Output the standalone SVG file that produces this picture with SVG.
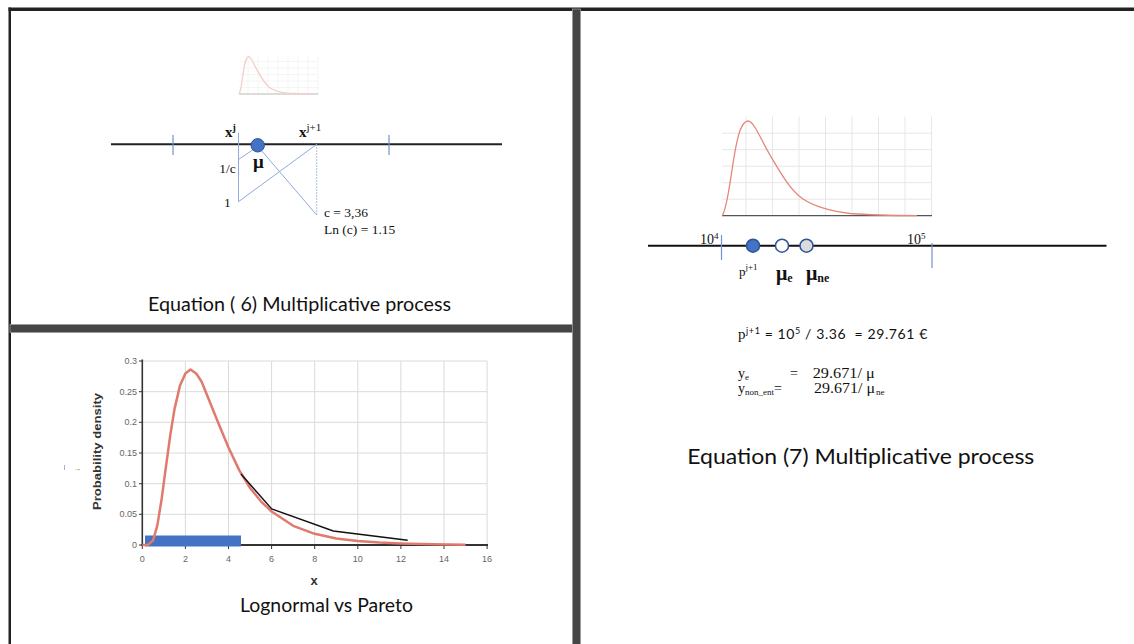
<svg xmlns="http://www.w3.org/2000/svg" xmlns:xlink="http://www.w3.org/1999/xlink" width="1134" height="644" viewBox="0 0 1134 644">
<style>
.serif{font-family:"Liberation Serif","Times New Roman",serif;fill:#111}
.sans{font-family:Lato,"Liberation Sans",sans-serif;fill:#111}
.tick{font-family:"Liberation Sans",Arial,sans-serif;font-size:9px;fill:#666}
.blue{stroke:#8FAADC;stroke-width:1;fill:none}
.btick{stroke:#6F93D6;stroke-width:1.2}
.grid{stroke:#dadada;stroke-width:1}
.frame{fill:#454545;stroke:#999;stroke-width:0.8}
</style>
<defs>
<g id="pdfChart">
<g stroke="#e4e4e4" stroke-width="0.9">
<line x1="24" y1="0" x2="24" y2="99" vector-effect="non-scaling-stroke"/>
<line x1="50.5" y1="0" x2="50.5" y2="99" vector-effect="non-scaling-stroke"/>
<line x1="77" y1="0" x2="77" y2="99" vector-effect="non-scaling-stroke"/>
<line x1="103.5" y1="0" x2="103.5" y2="99" vector-effect="non-scaling-stroke"/>
<line x1="130" y1="0" x2="130" y2="99" vector-effect="non-scaling-stroke"/>
<line x1="156.5" y1="0" x2="156.5" y2="99" vector-effect="non-scaling-stroke"/>
<line x1="183" y1="0" x2="183" y2="99" vector-effect="non-scaling-stroke"/>
<line x1="209.5" y1="0" x2="209.5" y2="99" vector-effect="non-scaling-stroke"/>
<line x1="0" y1="16.5" x2="209.5" y2="16.5" vector-effect="non-scaling-stroke"/>
<line x1="0" y1="33" x2="209.5" y2="33" vector-effect="non-scaling-stroke"/>
<line x1="0" y1="49.5" x2="209.5" y2="49.5" vector-effect="non-scaling-stroke"/>
<line x1="0" y1="66" x2="209.5" y2="66" vector-effect="non-scaling-stroke"/>
<line x1="0" y1="82.5" x2="209.5" y2="82.5" vector-effect="non-scaling-stroke"/>
</g>
<line x1="0" y1="99" x2="210" y2="99" stroke="#555" stroke-width="1.2" vector-effect="non-scaling-stroke"/>
<path d="M0,99 C4,95.3 7,73.3 10,53.3 C14,26.3 18,4.3 26,4.3 C32,4.3 39,23.3 48,38.3 C58,55.3 68,73.3 81,82.3 C93,90.3 108,94.3 128,96.8 C148,98.3 168,98.8 195,98.9" fill="none" stroke="#E3877B" stroke-width="1.3" vector-effect="non-scaling-stroke"/>
</g>
</defs>

<rect width="1134" height="644" fill="#ffffff"/>

<g id="frame">
<rect x="8.5" y="7.5" width="1126" height="3.5" fill="#222"/>
<rect x="8.5" y="7.5" width="2.5" height="637" fill="#222"/>
<rect x="10" y="324.5" width="563" height="8" class="frame"/>
<rect x="572.5" y="9" width="8" height="636" class="frame"/>
</g>

<g id="panel-eq6">
<g id="thumbnail" opacity="0.4">
<use xlink:href="#pdfChart" transform="translate(239,55) scale(0.377,0.394)"/>
</g>
<g id="axis6">
<line x1="111" y1="144.3" x2="502" y2="144.3" stroke="#222" stroke-width="2"/>
<line x1="173" y1="135" x2="173" y2="155" class="btick"/>
<line x1="389" y1="135" x2="389" y2="155" class="btick"/>
</g>
<g id="connectors6">
<line x1="238.5" y1="132.7" x2="238.5" y2="201.7" class="blue"/>
<line x1="238.5" y1="159.5" x2="254" y2="149" class="blue"/>
<line x1="238.5" y1="201.7" x2="316.7" y2="144.3" class="blue"/>
<line x1="261" y1="150" x2="316.7" y2="215" class="blue"/>
<line x1="316.7" y1="144.3" x2="316.7" y2="215" class="blue" stroke-dasharray="1.5 1.5"/>
</g>
<g id="node-mu">
<circle cx="257.7" cy="145.3" r="6.7" fill="#4472C4" stroke="#2F5597" stroke-width="1"/>
<text x="253" y="168" class="serif" font-size="19" font-weight="bold">μ</text>
</g>
<g id="labels6">
<text x="225" y="137" class="serif" font-size="15" font-weight="bold">x<tspan font-size="10" dy="-6">j</tspan></text>
<text x="299" y="137" class="serif" font-size="15" font-weight="bold">x<tspan font-size="11" font-weight="normal" dy="-6">j+1</tspan></text>
<text x="219.3" y="172.7" class="serif" font-size="13.5">1/c</text>
<text x="224" y="206.7" class="serif" font-size="13.5">1</text>
<text x="324" y="216.7" class="serif" font-size="13.5">c = 3,36</text>
<text x="324" y="234" class="serif" font-size="13.5">Ln (c) = 1.15</text>
</g>
<text id="caption6" x="148" y="311" class="sans" font-size="18.5" textLength="303" lengthAdjust="spacingAndGlyphs">Equation ( 6) Multiplicative process</text>
</g>

<g id="panel-lognormal">
<g id="grid">
<line x1="185.4" y1="361" x2="185.4" y2="545" class="grid"/>
<line x1="228.5" y1="361" x2="228.5" y2="545" class="grid"/>
<line x1="271.6" y1="361" x2="271.6" y2="545" class="grid"/>
<line x1="314.7" y1="361" x2="314.7" y2="545" class="grid"/>
<line x1="357.8" y1="361" x2="357.8" y2="545" class="grid"/>
<line x1="400.9" y1="361" x2="400.9" y2="545" class="grid"/>
<line x1="444" y1="361" x2="444" y2="545" class="grid"/>
<line x1="487.1" y1="361" x2="487.1" y2="545" class="grid"/>
<line x1="142.3" y1="514.3" x2="487.1" y2="514.3" class="grid"/>
<line x1="142.3" y1="483.7" x2="487.1" y2="483.7" class="grid"/>
<line x1="142.3" y1="453" x2="487.1" y2="453" class="grid"/>
<line x1="142.3" y1="422.3" x2="487.1" y2="422.3" class="grid"/>
<line x1="142.3" y1="391.7" x2="487.1" y2="391.7" class="grid"/>
<line x1="142.3" y1="361" x2="487.1" y2="361" class="grid"/>
</g>
<g id="axes" stroke="#333">
<line x1="142.3" y1="359.5" x2="142.3" y2="546" stroke-width="1.6"/>
<line x1="141.5" y1="545" x2="488" y2="545" stroke-width="2"/>
<path d="M139,361H142 M139,391.7H142 M139,422.3H142 M139,453H142 M139,483.7H142 M139,514.3H142 M139,545H142" stroke-width="1"/>
<path d="M142.3,545V549 M185.4,545V549 M228.5,545V549 M271.6,545V549 M314.7,545V549 M357.8,545V549 M400.9,545V549 M444,545V549 M487.1,545V549" stroke-width="1"/>
</g>
<g id="yticks" text-anchor="end">
<text x="137" y="364" class="tick">0.3</text>
<text x="137" y="394.7" class="tick">0.25</text>
<text x="137" y="425.3" class="tick">0.2</text>
<text x="137" y="456" class="tick">0.15</text>
<text x="137" y="486.7" class="tick">0.1</text>
<text x="137" y="517.3" class="tick">0.05</text>
<text x="137" y="548" class="tick">0</text>
</g>
<g id="xticks" text-anchor="middle">
<text x="142.3" y="561.5" class="tick">0</text>
<text x="185.4" y="561.5" class="tick">2</text>
<text x="228.5" y="561.5" class="tick">4</text>
<text x="271.6" y="561.5" class="tick">6</text>
<text x="314.7" y="561.5" class="tick">8</text>
<text x="357.8" y="561.5" class="tick">10</text>
<text x="400.9" y="561.5" class="tick">12</text>
<text x="444" y="561.5" class="tick">14</text>
<text x="487.1" y="561.5" class="tick">16</text>
</g>
<text x="314" y="585" text-anchor="middle" font-family="Liberation Sans, Arial, sans-serif" font-size="13" font-weight="bold" fill="#333">x</text>
<text transform="translate(100.5,451.5) rotate(-90)" text-anchor="middle" font-family="Liberation Sans, Arial, sans-serif" font-size="11.5" font-weight="bold" fill="#333" textLength="117" lengthAdjust="spacingAndGlyphs">Probability density</text>
<line x1="64.5" y1="465" x2="64.5" y2="470" stroke="#9bb3de" stroke-width="1"/>
<text x="73" y="471" font-family="Liberation Sans, Arial, sans-serif" font-size="8" fill="#777">→</text>
<rect id="bar" x="145" y="535.5" width="96" height="11" fill="#4472C4"/>
<path id="lognormal" d="M142.3,545 L148,544.8 L153.1,540.4 L157.4,525.1 L161.7,498.6 L166,466.4 L170.3,435 L174.6,408.6 L180,385.6 L185.4,373.5 L190.5,369.5 L196.2,373.5 L201.5,381.5 L207,395 L217.7,421.5 L228.5,447.5 L239.3,470.4 L250.1,488 L260.9,501.3 L271.6,511.5 L293.2,525.8 L314.7,533.8 L336.3,538.5 L357.8,541.1 L379.4,542.6 L400.9,543.5 L433,544.3 L465.6,544.7" fill="none" stroke="#E07A6E" stroke-width="2.5" stroke-linejoin="round"/>
<polyline id="pareto" points="241,474 271.7,509 333.3,531 407.7,540.3" fill="none" stroke="#111" stroke-width="1.4"/>
<text id="caption-ln" x="240" y="612" class="sans" font-size="18.5" textLength="173" lengthAdjust="spacingAndGlyphs">Lognormal vs Pareto</text>
</g>

<g id="panel-eq7">
<use id="chart7" xlink:href="#pdfChart" transform="translate(722,116.7)"/>
<g id="axis7">
<line x1="648" y1="245.7" x2="1106.5" y2="245.7" stroke="#111" stroke-width="2"/>
<line x1="721.5" y1="235" x2="721.5" y2="260" class="btick"/>
<line x1="932" y1="243" x2="932" y2="268" class="btick"/>
<text x="700" y="244" class="serif" font-size="14">10<tspan font-size="9" dy="-5">4</tspan></text>
<text x="907" y="244" class="serif" font-size="14">10<tspan font-size="9" dy="-5">5</tspan></text>
</g>
<g id="node-p">
<circle cx="753" cy="245.7" r="6.5" fill="#4472C4" stroke="#2F5597" stroke-width="1.5"/>
<text x="739" y="276" class="serif" font-size="13">p<tspan font-size="9" dy="-6">j+1</tspan></text>
</g>
<g id="node-mue">
<circle cx="782" cy="245.7" r="6.5" fill="#ffffff" stroke="#2F5597" stroke-width="1.5"/>
<text x="776" y="280" class="serif" font-size="20" font-weight="bold">μ<tspan font-size="12" dy="2">e</tspan></text>
</g>
<g id="node-mune">
<circle cx="806.5" cy="245.7" r="6.5" fill="#dcdcdc" stroke="#2F5597" stroke-width="1.5"/>
<text x="806" y="280" class="serif" font-size="20" font-weight="bold">μ<tspan font-size="12" dy="2">ne</tspan></text>
</g>
<g id="equations">
<text x="738" y="339.3" class="sans" font-size="14" xml:space="preserve" letter-spacing="0.6"><tspan class="serif" font-size="15">p</tspan><tspan font-size="9" dy="-5">j+1</tspan><tspan dy="5"> = 10</tspan><tspan font-size="9" dy="-5">5</tspan><tspan dy="5"> / 3.36  = 29.761 €</tspan></text>
<text x="738" y="377.7" class="serif" font-size="14">y<tspan font-size="9" dy="2">e</tspan></text>
<text x="790" y="377.7" class="serif" font-size="14">=</text>
<text x="812.7" y="377.7" class="serif" font-size="14" textLength="62" lengthAdjust="spacingAndGlyphs">29.671/ μ</text>
<text x="738" y="393.3" class="serif" font-size="14">y<tspan font-size="9" dy="2">non_ent</tspan></text>
<text x="774" y="393.3" class="serif" font-size="14">=</text>
<text x="814" y="393.3" class="serif" font-size="14" textLength="61" lengthAdjust="spacingAndGlyphs">29.671/ μ</text>
<text x="876" y="395.3" class="serif" font-size="9">ne</text>
</g>
<text id="caption7" x="687.3" y="464" class="sans" font-size="22" textLength="347" lengthAdjust="spacingAndGlyphs">Equation (7) Multiplicative process</text>
</g>
</svg>
